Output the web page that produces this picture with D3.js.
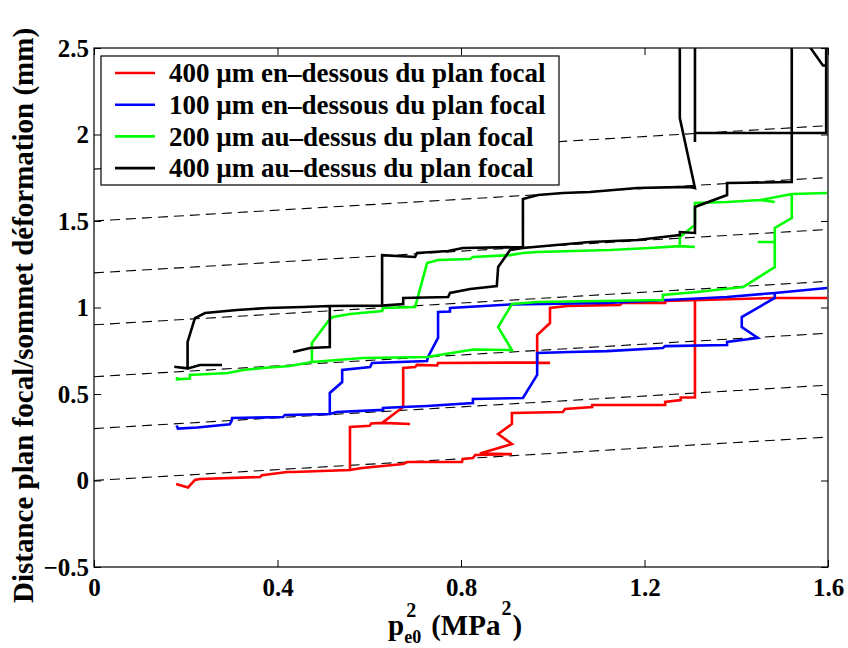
<!DOCTYPE html>
<html>
<head>
<meta charset="utf-8">
<script src="https://cdn.jsdelivr.net/npm/d3@7"></script>
<style>
  html, body { margin: 0; padding: 0; background: #fff; }
  svg { display: block; }
  text { font-family: "Liberation Serif", "Times New Roman", serif; font-weight: bold; fill: #000; }
</style>
</head>
<body>
<svg id="chart" width="848" height="648"></svg>
<script>
// ---------- data ----------
const xTicks = [0, 0.4, 0.8, 1.2, 1.6];
const yTicks = [-0.5, 0, 0.5, 1, 1.5, 2, 2.5];
const xTickLabels = ["0", "0.4", "0.8", "1.2", "1.6"];
const yTickLabels = ["\u22120.5", "0", "0.5", "1", "1.5", "2", "2.5"];

const seriesNames = [
  "400 \u00b5m en\u2013dessous du plan focal",
  "100 \u00b5m en\u2013dessous du plan focal",
  "200 \u00b5m au\u2013dessus du plan focal",
  "400 \u00b5m au\u2013dessus du plan focal"
];
const seriesColors = ["#ff0000", "#0000ff", "#00ff00", "#000000"];

// dashed reference lines: y = offset + slope * x
const refOffsets = [0, 0.3, 0.6, 0.9, 1.2, 1.5, 1.8];
const refSlope = 0.157;

// series paths ([x, y] points, null = break between runs)
const red400Below = [
  [0.179,-0.020],[0.205,-0.040],[0.220,0.003],[0.231,0.009],[0.362,0.020],[0.366,0.030],
  [0.421,0.049],[0.434,0.049],[0.558,0.061],[0.558,0.310],[0.601,0.316],[0.604,0.330],
  [0.628,0.333],[0.689,0.327],[0.628,0.333],[0.674,0.425],[0.674,0.650],[0.700,0.656],
  [0.704,0.668],[0.748,0.665],[0.750,0.679],[0.966,0.682],[0.994,0.680],[0.966,0.680],
  [0.966,0.841],[0.994,0.910],[0.994,0.997],[1.031,1.009],[1.147,1.015],[1.151,1.026],
  [1.245,1.026],[1.245,1.038],[1.306,1.042],[1.480,1.055],[1.598,1.055],
  null,
  [0.558,0.061],[0.584,0.072],[0.674,0.095],[0.683,0.107],[0.802,0.107],[0.804,0.124],
  [0.826,0.130],[0.831,0.147],[0.911,0.153],[0.841,0.156],[0.911,0.211],[0.881,0.269],
  [0.911,0.327],[0.911,0.390],[1.022,0.396],[1.027,0.413],[1.086,0.425],[1.086,0.436],
  [1.245,0.436],[1.245,0.454],[1.279,0.465],[1.279,0.480],[1.310,0.480],[1.310,1.042]
];

const blue100Below = [
  [0.180,0.318],[0.183,0.300],[0.225,0.306],[0.296,0.325],[0.300,0.345],[0.301,0.361],
  [0.412,0.367],[0.416,0.379],[0.514,0.384],[0.514,0.506],[0.541,0.569],[0.541,0.639],
  [0.602,0.656],[0.606,0.679],[0.726,0.691],[0.728,0.714],[0.750,0.824],[0.750,0.974],
  [0.776,0.977],[0.776,0.997],[0.911,1.018],[1.118,1.026],[1.249,1.043],[1.380,1.061],
  [1.484,1.084],[1.598,1.113],
  null,
  [0.514,0.384],[0.529,0.396],[0.630,0.408],[0.630,0.419],[0.674,0.425],[0.726,0.431],
  [0.826,0.448],[0.826,0.471],[0.935,0.477],[0.966,0.610],[0.966,0.737],[1.038,0.743],
  [1.118,0.748],[1.240,0.766],[1.245,0.777],[1.380,0.783],[1.380,0.801],[1.447,0.824],
  [1.412,0.887],[1.412,0.945],[1.484,1.055],[1.484,1.084]
];

const green200Above = [
  [0.181,0.598],[0.181,0.585],[0.209,0.590],[0.209,0.610],[0.292,0.621],[0.325,0.639],
  [0.368,0.650],[0.427,0.662],[0.475,0.685],[0.475,0.795],[0.514,0.934],[0.521,0.945],
  [0.558,0.962],[0.628,0.980],[0.630,0.997],[0.700,1.003],[0.726,1.257],[0.750,1.275],
  [0.820,1.280],[0.826,1.292],[0.907,1.303],[0.935,1.315],[0.966,1.321],[1.125,1.332],
  [1.212,1.344],[1.277,1.355],[1.310,1.350],[1.277,1.355],[1.277,1.408],[1.310,1.477],
  [1.310,1.604],[1.380,1.610],[1.453,1.621],[1.484,1.610],[1.453,1.621],[1.521,1.656],
  [1.598,1.662],
  null,
  [0.475,0.685],[0.586,0.708],[0.726,0.714],[0.820,0.754],[0.826,0.757],[0.911,0.754],
  [0.881,0.887],[0.911,1.020],[0.966,1.032],[1.240,1.043],[1.240,1.072],[1.314,1.090],
  [1.415,1.118],[1.484,1.234],[1.484,1.379],[1.447,1.379],[1.484,1.379],[1.484,1.460],
  [1.521,1.517],[1.521,1.662]
];

const black400Above = [
  [0.279,0.668],[0.231,0.668],[0.216,0.656],[0.204,0.648],[0.175,0.658],[0.204,0.648],
  [0.204,0.801],[0.220,0.939],[0.242,0.968],[0.312,0.986],[0.377,0.997],[0.456,1.003],
  [0.514,1.009],[0.628,1.011],[0.674,1.020],[0.674,1.055],[0.772,1.061],[0.776,1.084],
  [0.820,1.107],[0.878,1.124],[0.881,1.234],[0.907,1.332],[0.935,1.344],[1.081,1.379],
  [1.184,1.390],[1.240,1.408],[1.277,1.419],[1.277,1.436],[1.310,1.431],[1.310,1.581],
  [1.380,1.650],[1.380,1.720],[1.521,1.725],[1.521,2.620],
  null,
  [0.628,1.011],[0.628,1.303],[0.700,1.292],[0.704,1.315],[0.772,1.327],[0.804,1.344],
  [0.935,1.350],[0.935,1.627],[0.968,1.650],[1.022,1.662],[1.081,1.668],[1.184,1.691],
  [1.299,1.697],[1.310,1.691],[1.277,2.095],[1.277,2.620],
  null,
  [0.434,0.743],[0.471,0.766],[0.514,0.772],[0.514,1.009],
  null,
  [1.310,2.620],[1.310,1.957],[1.310,2.009],[1.596,2.009],[1.596,2.620],
  null,
  [1.530,2.620],[1.589,2.399],[1.596,2.400]
];

const seriesData = [red400Below, blue100Below, green200Above, black400Above];

// ---------- layout ----------
const svg = d3.select("#chart");
const L = 94, R = 828, T = 48, B = 567;
const x = d3.scaleLinear().domain([0, 1.6]).range([L, R]);
const y = d3.scaleLinear().domain([-0.5, 2.5]).range([B, T]);

svg.append("defs").append("clipPath").attr("id", "plotclip")
  .append("rect").attr("x", L).attr("y", T).attr("width", R - L).attr("height", B - T);

const plot = svg.append("g").attr("clip-path", "url(#plotclip)");

// reference dashed lines
plot.selectAll("line.ref").data(refOffsets).enter().append("line")
  .attr("class", "ref")
  .attr("x1", x(0)).attr("y1", d => y(d))
  .attr("x2", x(1.6)).attr("y2", d => y(d + refSlope * 1.6))
  .attr("stroke", "#000").attr("stroke-width", 1.1)
  .attr("stroke-dasharray", "10,6");

// series
const line = d3.line().defined(d => d !== null).x(d => x(d[0])).y(d => y(d[1]));
plot.selectAll("path.series").data(seriesData).enter().append("path")
  .attr("class", "series")
  .attr("d", d => line(d))
  .attr("fill", "none")
  .attr("stroke", (d, i) => seriesColors[i])
  .attr("stroke-width", 2.6)
  .attr("stroke-linejoin", "miter")
  .attr("stroke-linecap", "butt");

// axes frame
svg.append("rect").attr("x", L).attr("y", T).attr("width", R - L).attr("height", B - T)
  .attr("fill", "none").attr("stroke", "#000").attr("stroke-width", 1.2);

const tickLen = 7;
const axB = svg.append("g").attr("transform", `translate(0,${B})`)
  .call(d3.axisBottom(x).tickValues(xTicks).tickSizeInner(-tickLen).tickSizeOuter(0)
    .tickFormat((d, i) => xTickLabels[i]).tickPadding(15));
const axT = svg.append("g").attr("transform", `translate(0,${T})`)
  .call(d3.axisTop(x).tickValues(xTicks).tickSizeInner(-tickLen).tickSizeOuter(0).tickFormat(""));
const axL = svg.append("g").attr("transform", `translate(${L},0)`)
  .call(d3.axisLeft(y).tickValues(yTicks).tickSizeInner(-tickLen).tickSizeOuter(0)
    .tickFormat((d, i) => yTickLabels[i]).tickPadding(5));
const axR = svg.append("g").attr("transform", `translate(${R},0)`)
  .call(d3.axisRight(y).tickValues(yTicks).tickSizeInner(-tickLen).tickSizeOuter(0).tickFormat(""));

[axB, axT, axL, axR].forEach(g => {
  g.select(".domain").remove();
  g.selectAll(".tick line").attr("stroke", "#000").attr("stroke-width", 1);
});
axB.selectAll(".tick text").attr("font-size", 25).attr("font-family", "Liberation Serif")
  .attr("font-weight", "bold").attr("dy", null).attr("y", 29);
axL.selectAll(".tick text").attr("font-size", 25).attr("font-family", "Liberation Serif")
  .attr("font-weight", "bold").attr("dy", "0.33em").attr("x", -5);

// legend
const lg = svg.append("g");
lg.append("rect").attr("x", 101).attr("y", 56).attr("width", 458).attr("height", 129)
  .attr("fill", "#fff").attr("stroke", "#000").attr("stroke-width", 1.2);
const rows = lg.selectAll("g.row").data(seriesNames).enter().append("g")
  .attr("transform", (d, i) => `translate(0,${73 + i * 31.7})`);
rows.append("line").attr("x1", 115).attr("x2", 155).attr("y1", 0).attr("y2", 0)
  .attr("stroke", (d, i) => seriesColors[i]).attr("stroke-width", 2.6);
rows.append("text").attr("x", 169).attr("y", 0).attr("dy", "0.34em")
  .attr("font-size", 27).text(d => d);

// x axis title: p^2_{e0} (MPa^2)
const xt = svg.append("g");
const x0 = 388, yb = 635;
const tp = xt.append("text").attr("x", x0).attr("y", yb).attr("font-size", 29).text("p");
const pw = tp.node().getComputedTextLength();
xt.append("text").attr("x", x0 + pw + 2).attr("y", yb - 18).attr("font-size", 20).text("2");
const tsub = xt.append("text").attr("x", x0 + pw).attr("y", yb + 8).attr("font-size", 18).text("e0");
const sw = tsub.node().getComputedTextLength();
const xm = x0 + pw + sw + 10;
const t2 = xt.append("text").attr("x", xm).attr("y", yb).attr("font-size", 29).text("(MPa");
const mw = t2.node().getComputedTextLength();
xt.append("text").attr("x", xm + mw + 1).attr("y", yb - 20).attr("font-size", 20).text("2");
xt.append("text").attr("x", xm + mw + 12).attr("y", yb).attr("font-size", 29).text(")");

// y axis title
svg.append("text").attr("transform", "translate(33,603) rotate(-90)")
  .attr("font-size", 29).attr("text-anchor", "start")
  .text("Distance plan focal/sommet d\u00e9formation (mm)");
</script>
</body>
</html>
